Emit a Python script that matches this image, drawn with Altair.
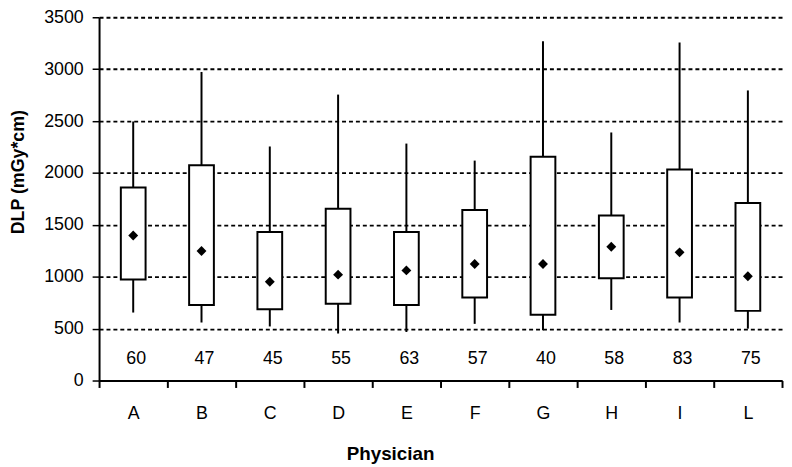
import altair as alt
import pandas as pd

physicians = ["A", "B", "C", "D", "E", "F", "G", "H", "I", "L"]
q1 = [973, 727, 687, 739, 727, 799, 634, 986, 799, 671]
q3 = [1859, 2075, 1432, 1656, 1432, 1644, 2156, 1591, 2034, 1710]
whisker_low = [655, 559, 521, 453, 468, 546, 484, 680, 559, 500]
whisker_high = [2496, 2973, 2255, 2755, 2283, 2119, 3270, 2390, 3257, 2795]
means = [1398, 1248, 952, 1020, 1061, 1123, 1123, 1289, 1235, 1005]
counts = [60, 47, 45, 55, 63, 57, 40, 58, 83, 75]
y_ticks = [0, 500, 1000, 1500, 2000, 2500, 3000, 3500]

df = pd.DataFrame({
    "physician": physicians,
    "q1": q1,
    "q3": q3,
    "lo": whisker_low,
    "hi": whisker_high,
    "mean": means,
    "n": counts,
})
df["label_y"] = 210

FONT = "Liberation Sans"

x_enc = alt.X(
    "physician:N",
    sort=physicians,
    scale=alt.Scale(paddingInner=0, paddingOuter=0),
    axis=alt.Axis(
        title="Physician",
        labelAngle=0,
        tickBand="extent",
        labelFont=FONT,
        labelFontSize=18,
        labelColor="black",
        labelPadding=17,
        tickSize=7,
        tickWidth=2,
        tickColor="black",
        domainColor="black",
        domainWidth=2,
        grid=False,
        titleFont=FONT,
        titleFontSize=19,
        titleFontWeight="bold",
        titleColor="black",
        titleBaseline="alphabetic",
        titleX=294,
        titleY=80,
    ),
)

y_scale = alt.Scale(domain=[0, 3500], nice=False, zero=True)

whiskers = alt.Chart(df).mark_rule(color="black", strokeWidth=2).encode(
    x=x_enc,
    y=alt.Y(
        "lo:Q",
        scale=y_scale,
        axis=alt.Axis(
            title="DLP (mGy*cm)",
            values=y_ticks,
            format="d",
            labelFont=FONT,
            labelFontSize=18,
            labelColor="black",
            labelPadding=9,
            tickSize=7,
            tickWidth=1.5,
            tickColor="black",
            domainColor="black",
            domainWidth=2,
            grid=True,
            gridColor="black",
            gridDash=[4, 3],
            gridWidth=1.8,
            gridOpacity=1,
            titleFont=FONT,
            titleFontSize=18,
            titleFontWeight="bold",
            titleColor="black",
            titleAngle=-90,
            titleBaseline="alphabetic",
            titleAlign="center",
            titleX=-76,
            titleY=156,
        ),
    ),
    y2="hi:Q",
)

boxes = alt.Chart(df).mark_bar(
    size=25, fill="white", stroke="black", strokeWidth=2
).encode(
    x=alt.X("physician:N", sort=physicians),
    y=alt.Y("q1:Q", scale=y_scale),
    y2="q3:Q",
)

mean_pts = alt.Chart(df).mark_point(
    shape="diamond", filled=True, color="black", size=100, opacity=1
).encode(
    x=alt.X("physician:N", sort=physicians),
    y=alt.Y("mean:Q", scale=y_scale),
)

labels = alt.Chart(df).mark_text(
    font=FONT, fontSize=18, color="black", dx=3, baseline="middle"
).encode(
    x=alt.X("physician:N", sort=physicians),
    y=alt.Y("label_y:Q", scale=y_scale),
    text="n:Q",
)

chart = alt.layer(whiskers, boxes, mean_pts, labels).properties(
    width=690,
    height=367,
    autosize=alt.AutoSizeParams(type="none"),
    padding={"left": 92, "top": 7, "right": 2, "bottom": 85},
    background="white",
).configure_view(stroke=None)

chart.save("out.html", embed_options={"renderer": "svg", "actions": False})
